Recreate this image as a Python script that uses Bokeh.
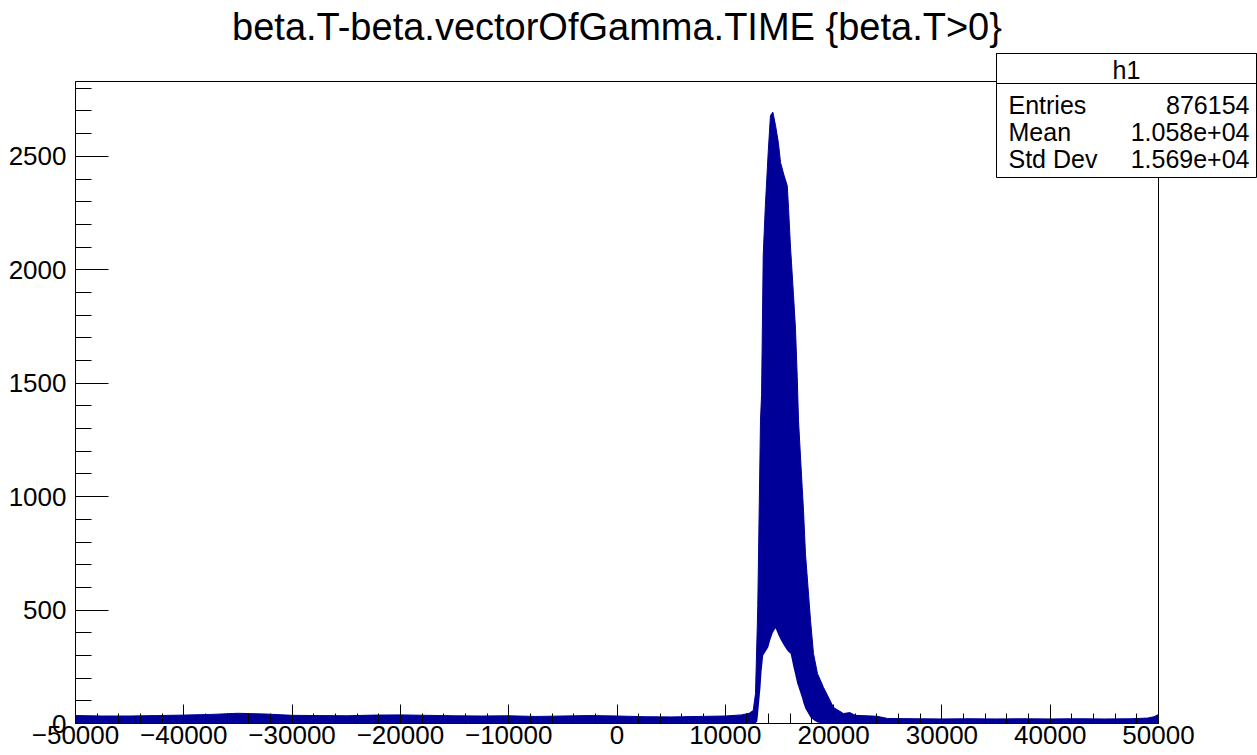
from bokeh.plotting import figure
from bokeh.models import (Range1d, FixedTicker, Label, LabelSet, ColumnDataSource,
                          BoxAnnotation)
from bokeh.core.properties import value
from bokeh.embed import file_html
from bokeh.resources import INLINE

TITLE = "beta.T-beta.vectorOfGamma.TIME {beta.T>0}"

# Envelope of the h1 bin contents: top of the highest bins and top of the
# lowest bins along the time difference axis.
time_diff = [
    -50000, -47500, -45000, -42500, -40000, -37500, -35000, -32500, -30000,
    -27500, -25000, -22500, -20000, -17500, -15000, -12500, -10000, -7500,
    -5000, -2500, 0, 2500, 5000, 7500, 10000, 11500, 12200, 12576, 12788,
    12950, 13000, 13250, 13350, 13500, 13700, 13960, 14170, 14390, 14640,
    14900, 15100, 15400, 15720, 15840, 16020, 16110, 16300, 16480, 16640,
    16760, 17100, 17220, 17400, 17870, 18140, 18510, 19070, 19990, 20910,
    21500, 22000, 24000, 25000, 27500, 30000, 32500, 35000, 37500, 40000,
    42500, 45000, 47500, 49000, 49600, 50000,
]
upper_counts = [
    35, 33, 33, 35, 37, 40, 45, 42, 36,
    35, 34, 37, 38, 36, 34, 33, 34, 31,
    33, 35, 33, 30, 29, 31, 33, 38, 45, 57, 132,
    420, 520, 1336, 1450, 2063, 2283, 2516, 2680, 2695, 2636,
    2560, 2473, 2420, 2371, 2270, 2100, 2032, 1886, 1741, 1530,
    1335, 1040, 940, 749, 454, 309, 220, 159, 71, 44,
    48, 36, 32, 22, 21, 20, 21, 20, 21, 20,
    21, 20, 21, 24, 30, 40,
]
lower_counts = [
    0, 0, 0, 0, 0, 0, 0, 0, 0,
    0, 0, 0, 0, 0, 0, 0, 0, 0,
    0, 0, 0, 0, 0, 0, 0, 0, 0, 0, 0,
    10, 30, 159, 230, 300, 315, 335, 370, 400, 420,
    390, 370, 345, 322, 315, 309, 290, 247, 210, 176,
    160, 110, 88, 65, 26, 15, 4, 0, 0, 0,
    0, 0, 0, 0, 0, 0, 0, 0, 0, 0,
    0, 0, 0, 0, 0, 0,
]

x_major = [-50000, -40000, -30000, -20000, -10000, 0, 10000, 20000, 30000, 40000, 50000]
x_minor = list(range(-50000, 50001, 2000))
y_major = [0, 500, 1000, 1500, 2000, 2500]
y_minor = list(range(0, 2801, 100))

stat_names = ["Entries", "Mean", "Std Dev"]
stat_values = ["876154", "1.058e+04", "1.569e+04"]
hist_name = "h1"

W, H = 1257, 755
FL, FR, FT, FB = 75, 1158, 81, 723          # histogram frame edges in pixels
XMIN, XMAX, YMIN, YMAX = -50000, 50000, 0, 2830
FONT = "Liberation Sans"
BLUE = "#000099"


def xd(px):
    return XMIN + (px - FL) * (XMAX - XMIN) / (FR - FL)


def yd(py):
    return YMIN + (FB - py) * (YMAX - YMIN) / (FB - FT)


# the plotting area spans the whole canvas; the histogram frame sits inside it
p = figure(width=W, height=H, x_range=Range1d(xd(0), xd(W)), y_range=Range1d(yd(H), yd(0)),
           output_backend="svg", toolbar_location=None,
           min_border=0, min_border_left=0, min_border_right=0,
           min_border_top=0, min_border_bottom=0)
p.background_fill_color = "white"
p.border_fill_color = "white"
p.outline_line_color = None
p.xgrid.grid_line_color = None
p.ygrid.grid_line_color = None

# histogram body
p.varea(x=time_diff, y1=lower_counts, y2=upper_counts, fill_color=BLUE)
p.line(x=time_diff, y=upper_counts, line_color=BLUE, line_width=1)

# axes, ROOT style: ticks inside the frame
xa = p.xaxis[0]
xa.fixed_location = YMIN
xa.bounds = (XMIN, XMAX)
xa.ticker = FixedTicker(ticks=x_major, minor_ticks=x_minor)
xa.major_label_overrides = {v: (str(v).replace("-", "\u2212")) for v in x_major}
xa.major_tick_in = 19
xa.major_tick_out = 0
xa.minor_tick_in = 10
xa.minor_tick_out = 0
xa.major_label_standoff = 2

ya = p.yaxis[0]
ya.fixed_location = XMIN
ya.bounds = (YMIN, YMAX)
ya.ticker = FixedTicker(ticks=y_major, minor_ticks=y_minor)
ya.major_tick_in = 33
ya.major_tick_out = 0
ya.minor_tick_in = 16
ya.minor_tick_out = 0
ya.major_label_standoff = 9

for ax in (xa, ya):
    ax.axis_line_color = "black"
    ax.major_tick_line_color = "black"
    ax.minor_tick_line_color = "black"
    ax.major_label_text_font = FONT
    ax.major_label_text_font_size = "26px"
    ax.major_label_text_color = "black"

# frame box
p.add_layout(BoxAnnotation(left=XMIN, right=XMAX, bottom=YMIN, top=YMAX,
                           fill_alpha=0.0, line_color="black", line_alpha=1.0,
                           line_width=1))

# title
p.add_layout(Label(x=xd((FL + FR) / 2), y=yd(26), text=TITLE, text_font=FONT,
                   text_font_size="38px", text_align="center", text_baseline="middle",
                   text_color="black"))

# statistics box
p.add_layout(BoxAnnotation(left=xd(996), right=xd(1256), top=yd(53), bottom=yd(177),
                           fill_color="white", fill_alpha=1.0,
                           line_color="black", line_alpha=1.0, line_width=1))
p.add_layout(BoxAnnotation(left=xd(996), right=xd(1256), top=yd(53), bottom=yd(83),
                           fill_alpha=0.0, line_color="black", line_alpha=1.0,
                           line_width=1))
p.add_layout(Label(x=xd(1126), y=yd(69), text=hist_name, text_font=FONT,
                   text_font_size="25px", text_align="center", text_baseline="middle",
                   text_color="black"))

row_y = [yd(104), yd(131), yd(158)]
src = ColumnDataSource(dict(y=row_y, name=stat_names, val=stat_values,
                            xl=[xd(1008)] * 3, xr=[xd(1249)] * 3))
p.add_layout(LabelSet(x="xl", y="y", text="name", source=src, text_font=value(FONT),
                      text_font_size="25px", text_align="left", text_baseline="middle",
                      text_color="black"))
p.add_layout(LabelSet(x="xr", y="y", text="val", source=src, text_font=value(FONT),
                      text_font_size="25px", text_align="right", text_baseline="middle",
                      text_color="black"))

open("out.html", "w").write(file_html(p, INLINE))
